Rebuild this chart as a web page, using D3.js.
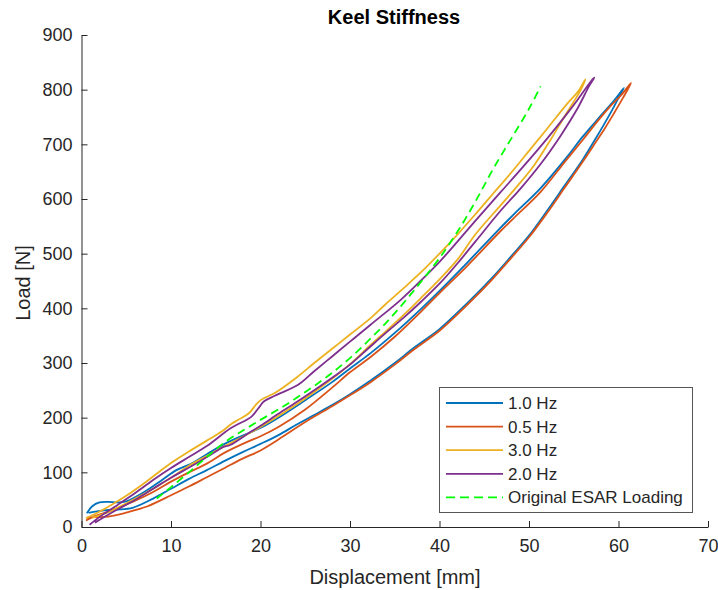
<!DOCTYPE html>
<html>
<head>
<meta charset="utf-8">
<script src="https://cdn.jsdelivr.net/npm/d3@7/dist/d3.min.js"></script>
<style>
  body { margin: 0; background: #fff; }
  text { font-family: "Liberation Sans", Arial, sans-serif; fill: #262626; }
</style>
</head>
<body>
<div id="chart"></div>
<script>
// tick values
var xTicks = [0, 10, 20, 30, 40, 50, 60, 70];
var yTicks = [0, 100, 200, 300, 400, 500, 600, 700, 800, 900];

var seriesNames = ['1.0 Hz', '0.5 Hz', '3.0 Hz', '2.0 Hz', 'Original ESAR Loading'];

// each loop: loading branch up to the peak, then unloading branch back down
var hz10Disp = [0.6, 1.2, 2.0, 3.0, 4.0, 5.0, 7.0, 9.0, 10.6, 12.4, 14.0, 16.1, 18.7, 20.1, 22, 25, 28, 30, 32.3, 35, 38, 40, 43, 46.8, 48.3, 51.3, 54.3, 56, 58, 59.5, 60.6,
                60.1, 59.3, 58.4, 57.5, 56, 54, 52, 50, 48, 46, 44, 42, 40, 37, 35, 32.3, 30, 28, 26, 24, 22, 20, 18, 16, 14, 12, 10, 8, 5.7, 4, 2.75, 1.5, 0.8];
var hz10Load = [25, 38, 45, 46, 45, 47, 64, 86, 104, 117, 133, 153, 172, 182, 200, 232, 265, 290, 318, 355, 400, 432, 482, 547, 572, 620, 678, 714, 752, 780, 803,
                788, 763, 737, 712, 672, 625, 578, 533, 495, 458, 424, 392, 362, 326, 300, 268, 243, 223, 205, 187, 168, 152, 137, 121, 104, 88, 70, 52, 35, 32, 31, 28, 26];

var hz05Disp = [0.5, 1.5, 3.5, 6, 8, 10, 12, 14, 16, 18.7, 20, 22, 25, 28, 30, 32.3, 35, 38, 40, 43, 46.8, 48.3, 51.3, 54, 56, 57.6, 59, 60.3, 61.4,
                60.5, 59.5, 58.5, 57.5, 56, 54, 52, 50, 48, 46, 44, 42, 40, 37, 35, 32.3, 30, 28, 25, 22, 20, 18, 16, 14, 12, 10, 7.4, 6, 4.5, 3, 1.5, 0.6];
var hz05Load = [12, 20, 31, 48, 64, 83, 100, 116, 136, 157, 166, 183, 215, 255, 283, 311, 348, 395, 428, 476, 541, 565, 613, 668, 708, 741, 768, 790, 812,
                785, 757, 730, 705, 668, 621, 574, 530, 492, 455, 421, 389, 359, 323, 297, 265, 241, 221, 192, 160, 140, 125, 108, 91, 74, 58, 38, 31, 24, 19, 18, 17];

var hz30Disp = [0.5, 2, 3.5, 5, 7, 10, 12, 14, 15.7, 16.7, 17.5, 18.7, 19.5, 20.1, 21.6, 24, 26, 28, 30, 32.3, 34, 36, 38, 40, 42, 44, 46, 48, 50, 52, 54.3, 55.5, 56.3,
                55.8, 55, 54, 52.4, 50.5, 48.5, 46.8, 44, 42, 40, 38, 36, 34, 32.3, 30, 28, 26, 24, 22, 20, 18, 16, 14, 12, 10, 8, 6, 4, 2.5, 1.2];
var hz30Load = [16, 28, 42, 57, 80, 117, 138, 158, 175, 188, 196, 208, 224, 233, 245, 273, 300, 326, 352, 382, 408, 437, 467, 500, 535, 572, 610, 648, 688, 728, 775, 797, 819,
                800, 778, 752, 708, 660, 620, 588, 535, 489, 453, 420, 388, 358, 333, 298, 271, 247, 224, 203, 183, 165, 148, 130, 112, 90, 70, 52, 35, 24, 17];

var hz20Disp = [0.9, 1.5, 2.5, 4, 6, 8, 10, 12, 14, 16.7, 19, 19.8, 20.4, 21.6, 24.2, 26, 28, 30, 32.3, 35.7, 38, 40, 42, 44, 46.8, 49.4, 52, 54.3, 55.5, 56.9, 57.3,
                56.7, 55.4, 53.5, 51.3, 49.1, 46.8, 44, 42, 40, 38, 36, 34, 32, 30, 28, 26, 24, 22, 20, 18.7, 16.6, 15.8, 15, 13, 10, 8, 6, 4, 2.5, 1.5];
var hz20Load = [4, 12, 24, 40, 62, 86, 108, 128, 148, 181, 202, 218, 230, 240, 260, 285, 312, 339, 370, 416, 452, 485, 522, 560, 612, 660, 710, 757, 783, 815, 822,
                806, 765, 715, 664, 620, 578, 522, 482, 445, 413, 383, 355, 326, 297, 273, 250, 228, 207, 185, 172, 150, 146, 138, 118, 90, 70, 50, 32, 18, 8];

var esarDisp = [8.4, 10, 12, 14, 16, 18, 20, 22, 24, 26, 28, 30, 32, 34, 36, 38, 40, 42, 44, 46, 48, 50, 51.3];
var esarLoad = [52, 73, 100, 128, 155, 176, 196, 215, 236, 258, 282, 309, 340, 373, 410, 450, 492, 540, 595, 655, 710, 765, 806];

var colors = ['#0072BD', '#D95319', '#EDB120', '#7E2F8E', '#00FF00'];

var chart_width = 718;
var chart_height = 590;
var margin = { left: 81.5, right: 10, top: 35, bottom: 63 };

var svg = d3.select('#chart')
    .append('svg')
    .attr('width', chart_width)
    .attr('height', chart_height);

var x = d3.scaleLinear().domain([0, 70]).range([margin.left, 708]);
var y = d3.scaleLinear().domain([0, 900]).range([527, margin.top]);

// axes (ticks point inward like MATLAB)
svg.append('g')
    .attr('transform', 'translate(0,527)')
    .call(d3.axisBottom(x).tickValues(xTicks).tickSizeInner(-6).tickSizeOuter(0).tickPadding(12));
svg.append('g')
    .attr('transform', 'translate(' + margin.left + ',0)')
    .call(d3.axisLeft(y).tickValues(yTicks).tickSizeInner(-6).tickSizeOuter(0).tickPadding(9));

svg.selectAll('.domain, .tick line').attr('stroke', '#262626');
svg.selectAll('.tick text').attr('font-size', 18).attr('fill', '#262626')
    .style('font-family', '"Liberation Sans", Arial, sans-serif');

// data lines
var line = d3.line()
    .x(function(d) { return x(d[0]); })
    .y(function(d) { return y(d[1]); })
    .curve(d3.curveCatmullRom);

function pairs(ds, ls) {
    return ds.map(function(d, i) { return [d, ls[i]]; });
}

var series = [
    pairs(hz10Disp, hz10Load),
    pairs(hz05Disp, hz05Load),
    pairs(hz30Disp, hz30Load),
    pairs(hz20Disp, hz20Load),
    pairs(esarDisp, esarLoad)
];

svg.selectAll('path.series')
    .data(series)
    .enter()
    .append('path')
    .attr('class', 'series')
    .attr('d', line)
    .attr('fill', 'none')
    .attr('stroke', function(d, i) { return colors[i]; })
    .attr('stroke-width', 1.8)
    .attr('stroke-linejoin', 'round')
    .attr('stroke-dasharray', function(d, i) { return i === 4 ? '8,5' : null; });

// title and axis labels
svg.append('text')
    .attr('x', 394).attr('y', 24)
    .attr('text-anchor', 'middle')
    .attr('font-size', 20).attr('font-weight', 'bold')
    .style('fill', '#000')
    .text('Keel Stiffness');

svg.append('text')
    .attr('x', 395).attr('y', 584)
    .attr('text-anchor', 'middle')
    .attr('font-size', 20)
    .text('Displacement [mm]');

svg.append('text')
    .attr('transform', 'translate(30,283) rotate(-90)')
    .attr('text-anchor', 'middle')
    .attr('font-size', 20)
    .text('Load [N]');

// legend
var legend = svg.append('g');
legend.append('rect')
    .attr('x', 439.5).attr('y', 387.5)
    .attr('width', 253).attr('height', 125)
    .attr('fill', '#fff')
    .attr('stroke', '#555')
    .attr('stroke-width', 1);

var rows = legend.selectAll('g.row')
    .data(seriesNames)
    .enter()
    .append('g')
    .attr('class', 'row')
    .attr('transform', function(d, i) { return 'translate(0,' + (403 + i * 23.6) + ')'; });

rows.append('line')
    .attr('x1', 446).attr('x2', 503)
    .attr('stroke', function(d, i) { return colors[i]; })
    .attr('stroke-width', 1.8)
    .attr('stroke-dasharray', function(d, i) { return i === 4 ? '9,5' : null; });

rows.append('text')
    .attr('x', 508)
    .attr('dy', '0.35em')
    .attr('font-size', 17)
    .text(function(d) { return d; });
</script>
</body>
</html>
